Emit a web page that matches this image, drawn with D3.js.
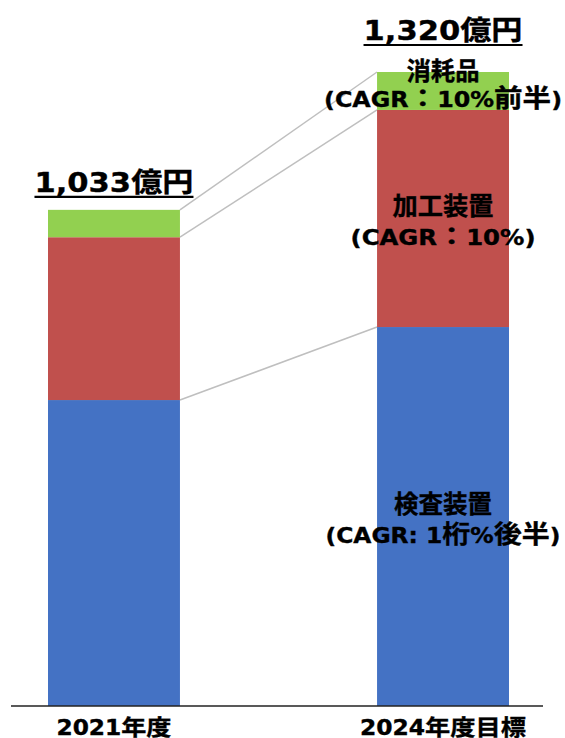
<!DOCTYPE html>
<html><head><meta charset="utf-8">
<script src="https://cdn.jsdelivr.net/npm/d3@7"></script>
<style>body{margin:0;background:#fff}svg{display:block}text{font-family:"DejaVu Sans","Noto Sans CJK JP",sans-serif;font-weight:bold;fill:#000;stroke:#000;stroke-width:0.35px}.cjk{font-family:"Noto Sans CJK JP",sans-serif}</style>
</head><body><svg id="c" width="565" height="738"></svg>
<script>
const categories = ["2021年度", "2024年度目標"];
const seriesNames = ["検査装置", "加工装置", "消耗品"];
const inspection = [637, 789];
const processing = [339, 452];
const consumables = [57, 79];
const totals = [1033, 1320];
const seriesLabels = [
  ["検査装置", "(CAGR: 1桁%後半)"],
  ["加工装置", "(CAGR：10%)"],
  ["消耗品", "(CAGR：10%前半)"]
];
const colors = ["#4472C4", "#C0504D", "#92D050"];

const svg = d3.select("#c");
const x = d3.scaleBand().domain(categories).range([48, 509]).paddingInner(0.599).paddingOuter(0);
const y = d3.scaleLinear().domain([0, 1320]).range([706, 72]);

const rows = categories.map((c, i) => ({cat: c, "検査装置": inspection[i], "加工装置": processing[i], "消耗品": consumables[i]}));
const stacked = d3.stack().keys(seriesNames)(rows);
const c0 = categories[0], c1 = categories[1];

// helper: mixed Latin / CJK text fitted to a width
function mixedText(g, str, cx, by, size, cjkRatio, width, underline) {
  const t = g.append("text").attr("x", cx).attr("y", by).attr("text-anchor", "middle")
    .attr("font-size", size);
  const runs = str.match(/[\x00-\x7F]+|[^\x00-\x7F]+/g);
  runs.forEach(r => {
    const ascii = /^[\x00-\x7F]+$/.test(r);
    t.append("tspan").attr("class", ascii ? null : "cjk")
      .attr("font-size", ascii ? size : size * cjkRatio).text(r);
  });
  if (width) t.attr("textLength", width).attr("lengthAdjust", "spacingAndGlyphs");
  if (underline) {
    g.append("line").attr("x1", cx - width / 2).attr("x2", cx + width / 2)
      .attr("y1", by + 5).attr("y2", by + 5).attr("stroke", "#000").attr("stroke-width", 2.2);
  }
  return t;
}

// connector lines
svg.append("g").selectAll("line").data(stacked).join("line")
  .attr("x1", x(c0) + x.bandwidth()).attr("y1", s => y(s[0][1]))
  .attr("x2", x(c1)).attr("y2", s => y(s[1][1]))
  .attr("stroke", "#BFBFBF").attr("stroke-width", 1.5);

// bars
svg.append("g").selectAll("g").data(stacked).join("g")
  .attr("fill", (d, i) => colors[i])
  .selectAll("rect").data(d => d).join("rect")
  .attr("x", d => x(d.data.cat)).attr("width", x.bandwidth())
  .attr("y", d => y(d[1])).attr("height", d => y(d[0]) - y(d[1]));

// axis line
svg.append("line").attr("x1", 11).attr("x2", 543).attr("y1", y(0)).attr("y2", y(0))
  .attr("stroke", "#222").attr("stroke-width", 1.3);

// category labels
const catW = [115, 166];
const gc = svg.append("g");
categories.forEach((c, i) => mixedText(gc, c, x(c) + x.bandwidth() / 2, 735, 20.5, 1.08, catW[i]));

// totals
const fmt = d3.format(",");
const totOff = [18, 32];
const gt = svg.append("g");
categories.forEach((c, i) => mixedText(gt, fmt(totals[i]) + "億円", x(c) + x.bandwidth() / 2,
  y(totals[i]) - totOff[i], 27, 1.02, 159, true));

// series labels on 2nd bar
const lblY = [[513, 543], [215, 245], [80, 107]];
const lblW = [[98, 235], [101, 185], [73, 238]];
const gs = svg.append("g");
seriesLabels.forEach((lines, k) => {
  lines.forEach((t, j) => mixedText(gs, t, x(c1) + x.bandwidth() / 2, lblY[k][j], 20.5, 1.2, lblW[k][j]));
});
</script></body></html>
